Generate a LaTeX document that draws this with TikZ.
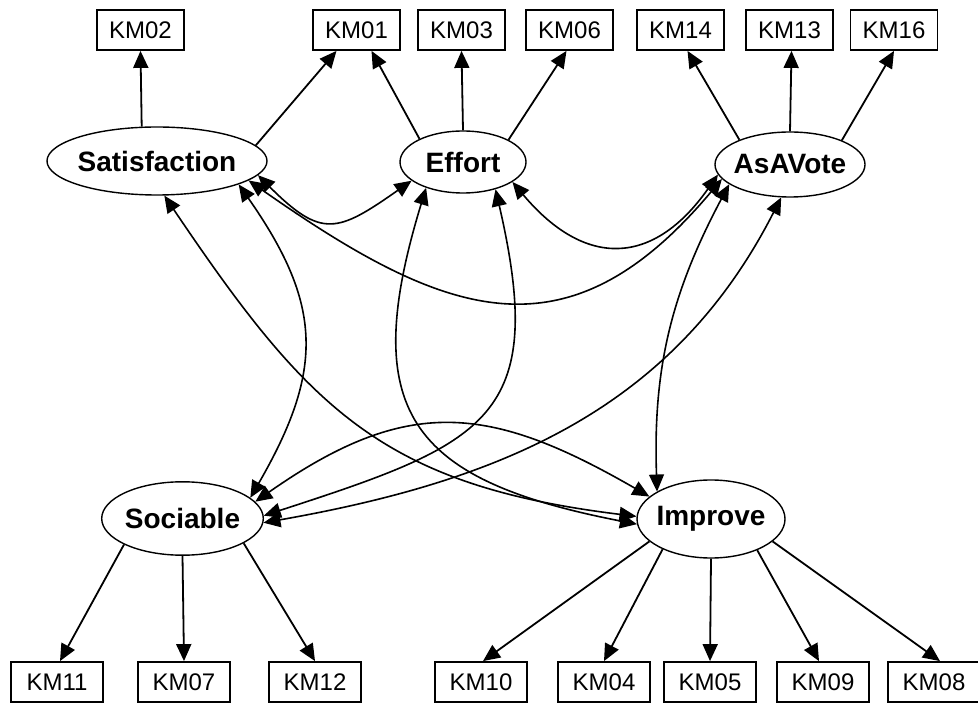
\documentclass[tikz,border=0pt]{standalone}
\usepackage{fontspec}
\setmainfont{Liberation Sans}
\usetikzlibrary{shapes.geometric,arrows.meta,calc}
\begin{document}
\begin{tikzpicture}[x=0.5pt,y=0.5pt,
  ind/.style={draw, line width=0.9pt, minimum width=43.5pt, minimum height=20pt, inner sep=0pt, font=\fontsize{12}{14}\selectfont},
  indb/.style={ind, minimum width=46pt},
  lat/.style={draw, ellipse, line width=0.7pt, inner sep=0pt, font=\fontsize{14}{16}\selectfont\bfseries},
  load/.style={line width=0.9pt, -{Triangle[length=8.5pt,width=7.5pt]}},
  cov/.style={line width=0.8pt, {Triangle[length=8.5pt,width=7.5pt]}-{Triangle[length=8.5pt,width=7.5pt]}},
]
\useasboundingbox (0,0) rectangle (978,-704);

% indicators top
\node[ind] (KM02) at (140.5,-30) {KM02};
\node[ind] (KM01) at (356.5,-30) {KM01};
\node[ind] (KM03) at (461.5,-30) {KM03};
\node[ind] (KM06) at (569.5,-30) {KM06};
\node[ind] (KM14) at (680.5,-30) {KM14};
\node[ind] (KM13) at (789.5,-30) {KM13};
\node[ind] (KM16) at (894,-30) {KM16};

% indicators bottom
\node[indb] (KM11) at (57,-682) {KM11};
\node[indb] (KM07) at (184,-682) {KM07};
\node[indb] (KM12) at (315,-682) {KM12};
\node[indb] (KM10) at (481,-682) {KM10};
\node[indb] (KM04) at (604,-682) {KM04};
\node[indb] (KM05) at (710,-682) {KM05};
\node[indb] (KM09) at (823,-682) {KM09};
\node[indb] (KM08) at (934,-682) {KM08};

% latent variables
\node[lat, minimum width=110pt, minimum height=34pt] (Sat) at (157,-161) {\makebox[0pt]{Satisfaction}};
\node[lat, minimum width=63pt, minimum height=31pt] (Effort) at (463,-162) {\makebox[0pt]{Effort}};
\node[lat, minimum width=75pt, minimum height=32.5pt] (AsAVote) at (790,-164.5) {\makebox[0pt]{AsAVote}};
\node[lat, minimum width=80.8pt, minimum height=36.7pt] (Sociable) at (182.5,-518.5) {\makebox[0pt]{Sociable}};
\node[lat, minimum width=74pt, minimum height=39pt] (Improve) at (711,-519) {\makebox[0pt]{Improve}};

% loadings
\draw[load] (Sat.114) -- (KM02.south);
\draw[load] (Sat.9) -- ($(KM01.south)+(-20,0)$);
\draw[load] (Effort.152) -- ($(KM01.south)+(15,0)$);
\draw[load] (Effort.90) -- (KM03.south);
\draw[load] (Effort.26) -- ($(KM06.south)+(-3,0)$);
\draw[load] (AsAVote.154) -- ($(KM14.south)+(7,0)$);
\draw[load] (AsAVote.90) -- ($(KM13.south)+(2,0)$);
\draw[load] (AsAVote.25) -- (KM16.south);
\draw[load] (Sociable.204) -- ($(KM11.north)+(3,0)$);
\draw[load] (Sociable.270) -- (KM07.north);
\draw[load] (Sociable.338) -- (KM12.north);
\draw[load] (Improve.200) -- ($(KM10.north)+(2,0)$);
\draw[load] (Improve.212) -- (KM04.north);
\draw[load] (Improve.270) -- (KM05.north);
\draw[load] (Improve.326) -- ($(KM09.north)+(-4,0)$);
\draw[load] (Improve.340) -- ($(KM08.north)+(6,0)$);

% covariances
\draw[cov] (Sat.-8) to[out=-45,in=-145,looseness=1.5] (Effort.200);
\draw[cov] (Sat.-12) to[out=-35,in=-130,looseness=1.3] (AsAVote.192);
\draw[cov] (Effort.-22) to[out=-50,in=-125,looseness=1.4] (AsAVote.188);
\draw[cov] (Sat.-16) to[out=-55,in=60,looseness=1.2] (Sociable.17);
\draw[cov] (Sat.-78) to[out=-56,in=173,looseness=1.15] (Improve.178);
\draw[cov] (Effort.215) to[out=-107,in=169,looseness=1.5] (Improve.184);
\draw[cov] (Effort.-40) to[out=-77,in=18,looseness=1.5] (Sociable.2);
\draw[cov] (AsAVote.255) to[out=-117,in=10] (Sociable.-3);
\draw[cov] (AsAVote.198) to[out=-118,in=92] (Improve.153);
\draw[cov] (Sociable.13) to[out=35,in=150,looseness=1.2] (Improve.160);
\end{tikzpicture}
\end{document}
